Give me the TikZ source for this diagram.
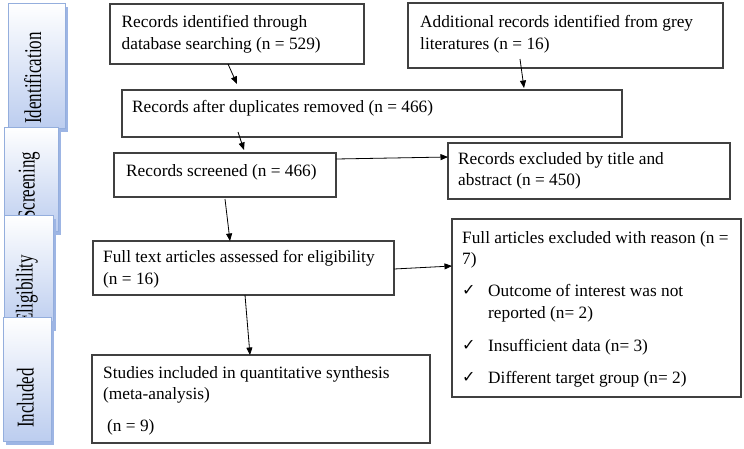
\documentclass[tikz,border=0pt]{standalone}
\usepackage{fontspec}
\usepackage{graphicx}
\setmainfont{Liberation Serif}
\newfontfamily\symfont{DejaVu Sans}
\usetikzlibrary{arrows.meta}

\definecolor{boxline}{HTML}{404040}
\definecolor{tabline}{HTML}{94AEDD}
\definecolor{tabfill}{HTML}{BCCDEF}
\definecolor{tabshadow}{HTML}{9DB5E4}

\newcommand\bodyfont{\fontsize{17.3}{21.7}\selectfont}
\newcommand\tickmark{\makebox[26pt][l]{\hspace*{0pt}\raisebox{1pt}{\symfont\fontsize{16}{16}\selectfont ✓}}}
\newcommand\tabword[1]{\scalebox{1}[1.42]{#1}}

\begin{document}
\begin{tikzpicture}[x=1pt,y=-1pt,
  box/.style={draw=boxline, line width=1.2pt, anchor=north west, inner sep=0pt, outer sep=0pt},
  txt/.style={anchor=north west, inner sep=0pt, align=left, font=\bodyfont},
  flow/.style={-{Triangle[length=7.5pt,width=6pt]}, line width=0.8pt},
  tabtxt/.style={rotate=90, anchor=base west, inner sep=0pt, text=black, font=\fontsize{17}{17}\selectfont},
]
\useasboundingbox (0,0) rectangle (744,448);

% ---- stage tabs on the left (each later tab overlaps the previous one)
\fill[tabshadow] (11,7) rectangle (68,132);
\shade[top color=white, bottom color=tabfill, draw=tabline, line width=0.8pt] (8,3) rectangle (65,128);
\node[tabtxt] (tid) at (41,124) {\tabword{Identification}};

\fill[tabshadow] (7,131) rectangle (61,235);
\shade[top color=white, bottom color=tabfill, draw=tabline, line width=0.8pt] (4,127) rectangle (58,231);
\node[tabtxt] (tsc) at (34.5,220) {\tabword{Screening}};

\fill[tabshadow] (7,219) rectangle (56,331);
\shade[top color=white, bottom color=tabfill, draw=tabline, line width=0.8pt] (4,215) rectangle (53,327);
\node[tabtxt] (tel) at (32.5,324) {\tabword{Eligibility}};

\fill[tabshadow] (6,321) rectangle (54,445);
\shade[top color=white, bottom color=tabfill, draw=tabline, line width=0.8pt] (3,317) rectangle (51,441);
\node[tabtxt] (tin) at (33.5,428) {\tabword{Included}};

% ---- flow boxes
\node[box, minimum width=254pt, minimum height=60pt] (rec) at (110,4) {};
\node[txt] (rect) at (121.5,15.5) {Records identified through\\database searching (n = 529)};

\node[box, minimum width=315pt, minimum height=65pt] (grey) at (408,3) {};
\node[txt] (greyt) at (420,15) {Additional records identified from grey\\literatures (n = 16)};

\node[box, minimum width=500pt, minimum height=47pt] (dup) at (122,90) {};
\node[txt] (dupt) at (132,100.3) {Records after duplicates removed (n = 466)};

\node[box, minimum width=222pt, minimum height=44pt] (scr) at (114,153) {};
\node[txt] (scrt) at (126,164) {Records screened (n = 466)};

\node[box, minimum width=282pt, minimum height=56pt] (exc) at (448,143) {};
\node[txt] (exct) at (458,152) {Records excluded by title and\\abstract (n = 450)};

\node[box, minimum width=301pt, minimum height=54pt] (full) at (93,241) {};
\node[txt] (fullt) at (103,250) {Full text articles assessed for eligibility\\(n = 16)};

\node[box, minimum width=289pt, minimum height=178pt] (excr) at (452,219) {};
\node[txt] (excrt) at (462,231) {Full articles excluded with reason (n =\\7)\\[10pt]
\tickmark Outcome of interest was not\\
\hspace*{26pt}reported (n= 2)\\[11pt]
\tickmark Insufficient data (n= 3)\\[11pt]
\tickmark Different target group (n= 2)};

\node[box, minimum width=338pt, minimum height=88pt] (incl) at (92,355) {};
\node[txt] (inclt) at (103,366) {Studies included in quantitative synthesis\\(meta-analysis)\\[10pt]\hspace*{4pt}(n = 9)};

% ---- connectors
\draw[flow] ([xshift=118pt]rec.south west) -- ([xshift=115pt,yshift=6pt]dup.north west);
\draw[flow] ([xshift=112pt,yshift=9pt]grey.south west) -- ([xshift=402pt,yshift=2pt]dup.north west);
\draw[flow] ([xshift=116pt,yshift=5pt]dup.south west) -- ([xshift=130pt,yshift=3pt]scr.north west);
\draw[flow] ([yshift=-6pt]scr.north east) -- ([yshift=-14pt]exc.north west);
\draw[flow] ([xshift=111pt,yshift=-2pt]scr.south west) -- ([xshift=137pt]full.north west);
\draw[flow] ([yshift=-28pt]full.north east) -- ([yshift=-47pt]excr.north west);
\draw[flow] ([xshift=152pt]full.south west) -- ([xshift=158pt]incl.north west);
\end{tikzpicture}
\end{document}
